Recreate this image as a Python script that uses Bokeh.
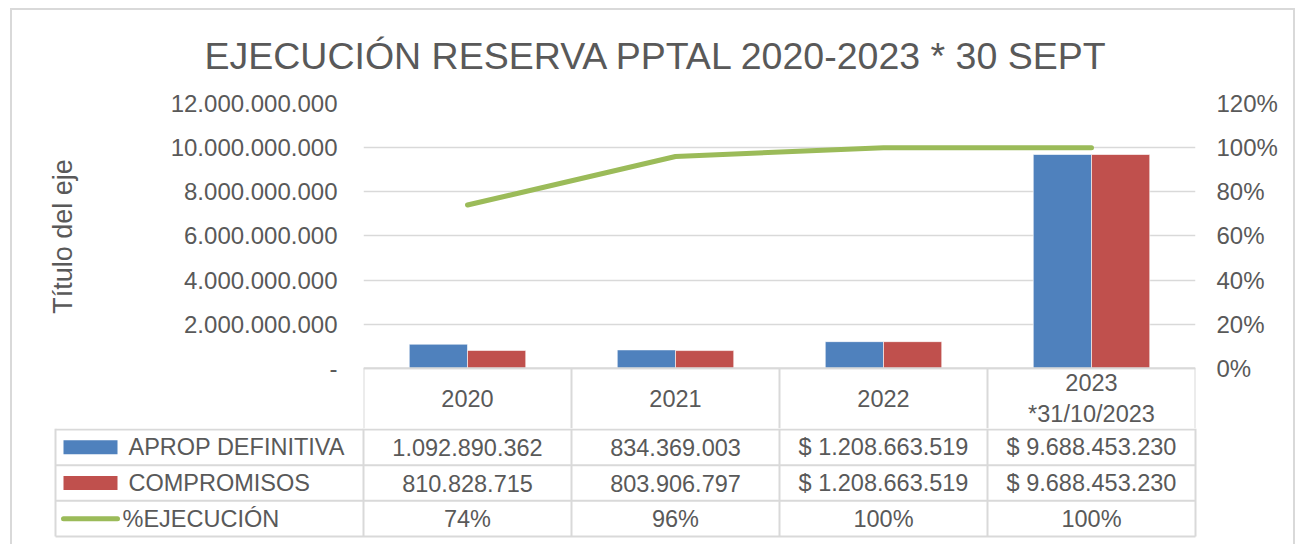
import numpy as np
from bokeh.plotting import figure
from bokeh.models import (Range1d, LinearAxis, FixedTicker, NumeralTickFormatter,
                          CustomJSTickFormatter, ColumnDataSource)
from bokeh.core.properties import value
from bokeh.embed import file_html
from bokeh.resources import INLINE

# ---------------- data ----------------
years = ["2020", "2021", "2022", "2023\n*31/10/2023"]
aprop = [1092890362, 834369003, 1208663519, 9688453230]
compromisos = [810828715, 803906797, 1208663519, 9688453230]
ejecucion = [0.74, 0.96, 1.00, 1.00]
currency_prefix = ["", "", "$ ", "$ "]
left_ticks = [0, 2e9, 4e9, 6e9, 8e9, 10e9, 12e9]
right_ticks = [0, 0.2, 0.4, 0.6, 0.8, 1.0, 1.2]
series_names = ["APROP DEFINITIVA", "COMPROMISOS", "%EJECUCIÓN"]
title_text = "EJECUCIÓN RESERVA PPTAL 2020-2023 * 30 SEPT"
y_title = "Título del eje"

# ---------------- style / layout ----------------
FONT = "Liberation Sans"
GRAY = "#595959"
GRID = "#d9d9d9"
BLUE = "#4f81bd"
RED = "#c0504d"
GREEN = "#9bbb59"

W = 1296
N = len(years)
COL_PX = 208            # width of one category column
FRAME_L = 363
FRAME_R = FRAME_L + COL_PX * N
FRAME_T = 104
ZERO_Y = 368            # pixel row of the zero line
TOP_H = 428             # chart figure height (includes table header row)
TAB_H = 544 - TOP_H     # table figure height
Y_MAX = 12e9
P_MAX = 1.2
PX_PER = (ZERO_Y - FRAME_T) / Y_MAX
y_start = -(TOP_H - ZERO_Y) / PX_PER
p_start = y_start / Y_MAX * P_MAX


def border_css(top_line):
    g = "linear-gradient(#d9d9d9, #d9d9d9)"
    if top_line:
        return {"background-image": f"{g}, {g}, {g}",
                "background-size": "2px calc(100% - 8px), 1285px 2px, 2px calc(100% - 8px)",
                "background-position": "10px 8px, 10px 8px, 1293px 8px",
                "background-repeat": "no-repeat"}
    return {"background-image": f"{g}, {g}",
            "background-size": "2px 100%, 2px 100%",
            "background-position": "10px 0px, 1293px 0px",
            "background-repeat": "no-repeat"}


def xpx(px):
    return (px - FRAME_L) / COL_PX


# ---------------- chart ----------------
p = figure(width=W, height=TOP_H, x_range=Range1d(0, N), y_range=Range1d(y_start, Y_MAX),
           output_backend="svg", toolbar_location=None,
           x_axis_location=None, y_axis_location="left",
           min_border_left=FRAME_L, min_border_right=W - FRAME_R,
           min_border_top=FRAME_T - 1, min_border_bottom=0,
           styles=border_css(True))
p.outline_line_color = None
p.background_fill_color = None
p.border_fill_color = None
p.xgrid.visible = False

p.title.text = title_text
p.title.align = "left"
p.title.offset = -159
p.title.standoff = 54
p.title.text_font = FONT
p.title.text_font_size = "37.5px"
p.title.text_font_style = "normal"
p.title.text_color = GRAY

yax = p.yaxis[0]
yax.ticker = FixedTicker(ticks=left_ticks)
yax.formatter = CustomJSTickFormatter(code="""
if (Math.abs(tick) < 1) return '-';
return Math.round(tick).toString().replace(/\\B(?=(\\d{3})+(?!\\d))/g, '.');
""")
yax.axis_line_color = None
yax.major_tick_line_color = None
yax.minor_tick_line_color = None
yax.major_label_standoff = 20
yax.major_label_text_font = FONT
yax.major_label_text_font_size = "24px"
yax.major_label_text_color = GRAY

p.ygrid.grid_line_color = GRID
p.ygrid.grid_line_width = 1.5

p.extra_y_ranges = {"pct": Range1d(p_start, P_MAX)}
rax = LinearAxis(y_range_name="pct", ticker=FixedTicker(ticks=right_ticks),
                 formatter=NumeralTickFormatter(format="0%"))
rax.axis_line_color = None
rax.major_tick_line_color = None
rax.minor_tick_line_color = None
rax.major_label_standoff = 15
rax.major_label_text_font = FONT
rax.major_label_text_font_size = "24px"
rax.major_label_text_color = GRAY
p.add_layout(rax, "right")

xc = np.arange(N) + 0.5
BW = 0.28
src = ColumnDataSource(dict(xa=xc - BW / 2, xb=xc + BW / 2, xc=xc,
                            aprop=aprop, comp=compromisos, pct=ejecucion))
p.vbar(x="xa", top="aprop", bottom=0, width=BW, source=src,
       fill_color=BLUE, line_color="white", line_alpha=0.6, line_width=1)
p.vbar(x="xb", top="comp", bottom=0, width=BW, source=src,
       fill_color=RED, line_color="white", line_alpha=0.6, line_width=1)
p.line(x="xc", y="pct", source=src, y_range_name="pct",
       line_color=GREEN, line_width=5, line_cap="round", line_join="round")


# table header row (category labels) inside the chart figure
def px_to_val(py):
    return (ZERO_Y - py) / PX_PER


p.segment(x0=[0], y0=[0], x1=[N], y1=[0], line_color=GRID, line_width=2)
vx = list(range(N + 1))
p.segment(x0=vx, y0=[0] * len(vx), x1=vx, y1=[y_start] * len(vx), line_color=GRID, line_width=2)
p.text(x=xc, y=[px_to_val(398)] * N, text=years, text_align="center", text_baseline="middle",
       text_line_height=1.2, text_font=value(FONT), text_font_size="23.5px", text_color=GRAY)

# ---------------- vertical axis title (own small canvas, placed over the axis area) ----------------
t = figure(width=40, height=200, x_range=Range1d(0, 1), y_range=Range1d(0, 1),
           output_backend="svg", toolbar_location=None,
           x_axis_location=None, y_axis_location=None,
           min_border=0, min_border_left=0, min_border_right=0,
           min_border_top=0, min_border_bottom=0,
           styles={"position": "absolute", "left": "42px", "top": "136px"})
t.outline_line_color = None
t.background_fill_color = None
t.border_fill_color = None
t.xgrid.visible = False
t.ygrid.visible = False
t.text(x=[0.5], y=[0.5], text=[y_title], angle=np.pi / 2, text_align="center",
       text_baseline="middle", text_font=value(FONT), text_font_size="27px", text_color=GRAY)

# ---------------- data table ----------------
x0 = -FRAME_L / COL_PX
x1 = (W - FRAME_L) / COL_PX
q = figure(width=W, height=TAB_H, x_range=Range1d(x0, x1), y_range=Range1d(0, TAB_H),
           output_backend="svg", toolbar_location=None,
           x_axis_location=None, y_axis_location=None,
           min_border=0, min_border_left=0, min_border_right=0,
           min_border_top=0, min_border_bottom=0,
           styles=border_css(False))
q.outline_line_color = None
q.xgrid.visible = False
q.ygrid.visible = False
q.background_fill_color = None
q.border_fill_color = None

HDR_BOT = TAB_H - 1
ROW_H = (HDR_BOT - 8) / 3
row_lines = [HDR_BOT - i * ROW_H for i in range(4)]
LEG_L = xpx(55)

q.segment(x0=[LEG_L] * 4, y0=row_lines, x1=[N] * 4, y1=row_lines, line_color=GRID, line_width=2)
vx2 = [LEG_L] + list(range(N + 1))
q.segment(x0=vx2, y0=[row_lines[-1]] * len(vx2), x1=vx2, y1=[TAB_H] * len(vx2),
          line_color=GRID, line_width=2)

txt_kw = dict(text_font=value(FONT), text_font_size="23.5px", text_color=GRAY,
              text_baseline="middle")


def fmt(v):
    return f"{int(v):,}".replace(",", ".")


row_c = [HDR_BOT - ROW_H * (i + 0.5) for i in range(3)]
q.text(x=xc, y=[row_c[0]] * N, text=[pre + fmt(v) for pre, v in zip(currency_prefix, aprop)],
       text_align="center", **txt_kw)
q.text(x=xc, y=[row_c[1]] * N, text=[pre + fmt(v) for pre, v in zip(currency_prefix, compromisos)],
       text_align="center", **txt_kw)
q.text(x=xc, y=[row_c[2]] * N, text=[f"{round(v * 100)}%" for v in ejecucion],
       text_align="center", **txt_kw)

# legend keys
sw0, sw1 = xpx(63), xpx(117)
q.quad(left=[sw0, sw0], right=[sw1, sw1],
       bottom=[row_c[0] - 7, row_c[1] - 7], top=[row_c[0] + 7, row_c[1] + 7],
       fill_color=[BLUE, RED], line_color=None)
q.line(x=[sw0, sw1], y=[row_c[2], row_c[2]], line_color=GREEN, line_width=5, line_cap="round")
q.text(x=[xpx(128), xpx(128), xpx(122)], y=row_c, text=series_names, text_align="left", **txt_kw)

open("out.html", "w").write(file_html([p, q, t], INLINE))
